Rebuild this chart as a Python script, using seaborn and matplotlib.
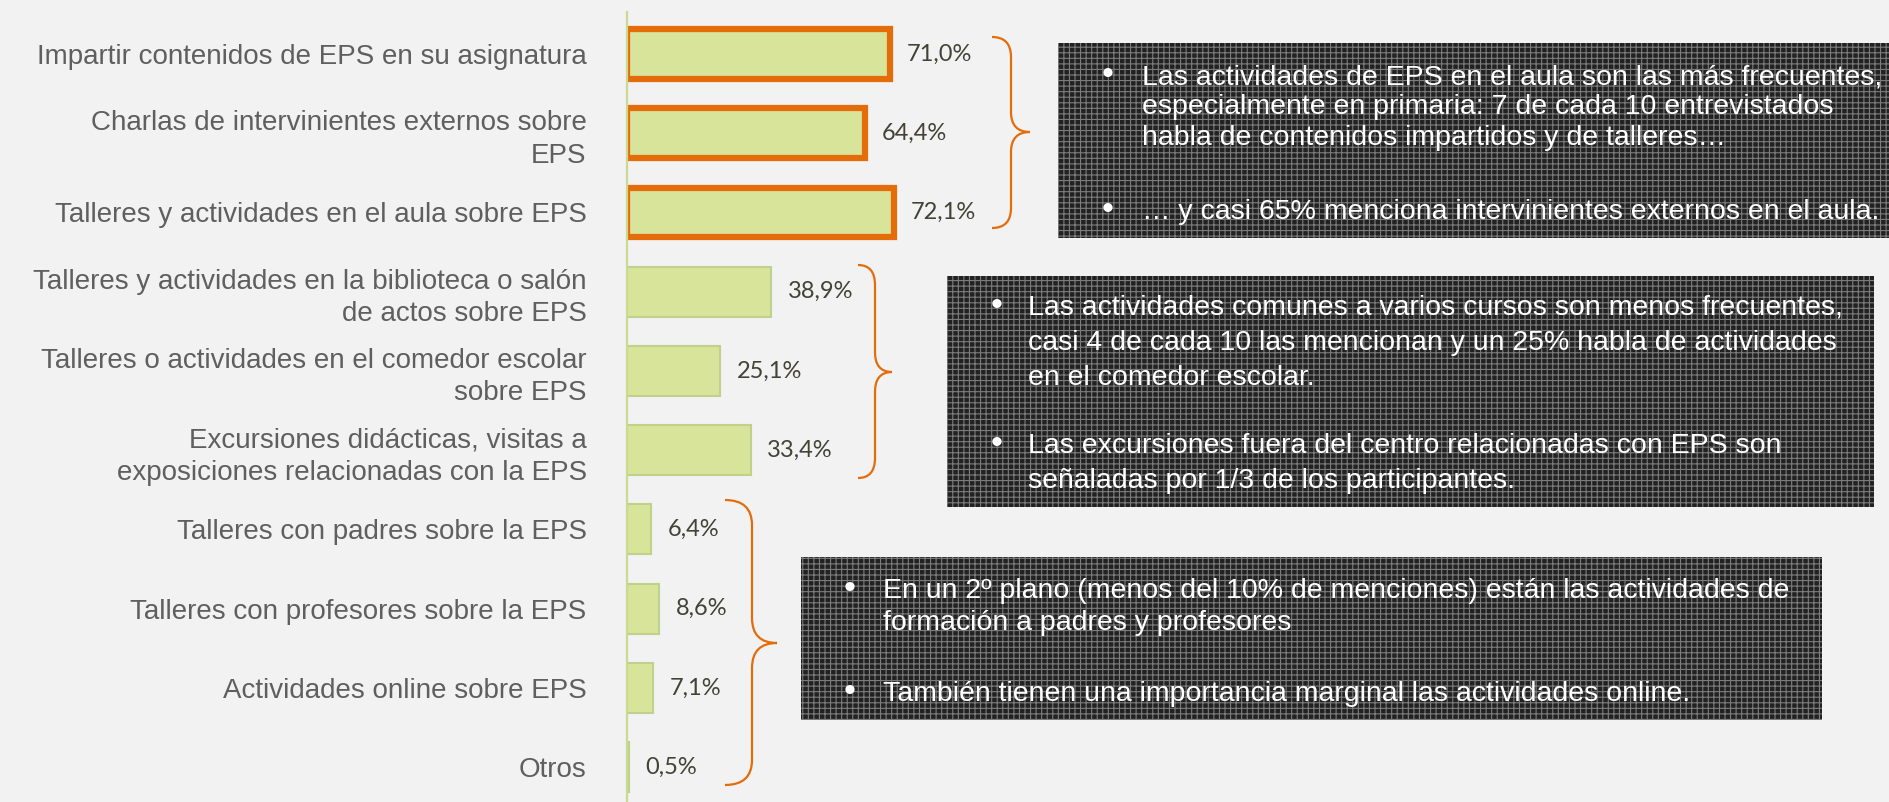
import matplotlib
matplotlib.use("Agg")
import matplotlib.pyplot as plt
import seaborn as sns
import pandas as pd
from matplotlib.patches import Rectangle, PathPatch
from matplotlib.path import Path

categories = [
    "Impartir contenidos de EPS en su asignatura",
    "Charlas de intervinientes externos sobre\nEPS",
    "Talleres y actividades en el aula sobre EPS",
    "Talleres y actividades en la biblioteca o salón\nde actos sobre EPS",
    "Talleres o actividades en el comedor escolar\nsobre EPS",
    "Excursiones didácticas, visitas a\nexposiciones relacionadas con la EPS",
    "Talleres con padres sobre la EPS",
    "Talleres con profesores sobre la EPS",
    "Actividades online sobre EPS",
    "Otros",
]
values = [71.0, 64.4, 72.1, 38.9, 25.1, 33.4, 6.4, 8.6, 7.1, 0.5]
highlighted = [0, 1, 2]

box1_lines = [
    "Las actividades de EPS en el aula son las más frecuentes,",
    "especialmente en primaria: 7 de cada 10 entrevistados",
    "habla de contenidos impartidos y de talleres…",
]
box1_extra = ["… y casi 65% menciona intervinientes externos en el aula."]
box2_lines = [
    "Las actividades comunes a varios cursos son menos frecuentes,",
    "casi 4 de cada 10 las mencionan y un 25% habla de actividades",
    "en el comedor escolar.",
]
box2_extra = [
    "Las excursiones fuera del centro relacionadas con EPS son",
    "señaladas por 1/3 de los participantes.",
]
box3_lines = [
    "En un 2º plano (menos del 10% de menciones) están las actividades de",
    "formación a padres y profesores",
]
box3_extra = ["También tienen una importancia marginal las actividades online."]

df = pd.DataFrame({"cat": categories, "val": values})
df["lab"] = [f"{v:.1f}%".replace(".", ",") for v in values]

BG = "#f2f2f2"
ORANGE = "#e46c0a"
W, H = 1890, 802

plt.rcParams["font.family"] = ["Liberation Sans", "DejaVu Sans"]
plt.rcParams["hatch.linewidth"] = 0.8

fig = plt.figure(figsize=(W / 100, H / 100), dpi=100, facecolor=BG)
ax = fig.add_axes([627 / W, 0, (W - 627) / W, (H - 12) / H])
ax.set_facecolor(BG)

sns.barplot(data=df, x="val", y="cat", ax=ax, color="#d9e49b", saturation=1,
            edgecolor="#c0d18b", linewidth=1.5, width=0.63)

for i in highlighted:
    ax.patches[i].set_edgecolor(ORANGE)
    ax.patches[i].set_linewidth(4.5)

ax.bar_label(ax.containers[0], labels=df["lab"], padding=12, fontsize=17,
             color="#424236", family=["Lato", "DejaVu Sans"])

ax.set_xlim(0, (W - 627) / 3.70)
ax.set_ylim(9.44, -0.53)
ax.set_xlabel("")
ax.set_ylabel("")
ax.set_xticks([])
for s in ["top", "right", "bottom"]:
    ax.spines[s].set_visible(False)
ax.spines["left"].set_color("#cbd994")
ax.spines["left"].set_linewidth(1.6)
ax.tick_params(axis="y", length=0, pad=29, labelsize=20, labelcolor="#5f5f5f")
for t in ax.get_yticklabels():
    t.set_linespacing(1.32)

# overlay in pixel coordinates for the comment boxes and braces
ov = fig.add_axes([0, 0, 1, 1], zorder=3)
ov.set_xlim(0, W)
ov.set_ylim(H, 0)
ov.axis("off")
ov.patch.set_alpha(0)


def brace(x_left, x_mid, x_tip, y_top, y_mid, y_bot, r):
    verts = [(x_left, y_top), (x_mid, y_top), (x_mid, y_top + r),
             (x_mid, y_mid - r), (x_mid, y_mid), (x_tip, y_mid),
             (x_mid, y_mid), (x_mid, y_mid + r),
             (x_mid, y_bot - r), (x_mid, y_bot), (x_left, y_bot)]
    codes = [Path.MOVETO, Path.CURVE3, Path.CURVE3, Path.LINETO,
             Path.CURVE3, Path.CURVE3, Path.CURVE3, Path.CURVE3,
             Path.LINETO, Path.CURVE3, Path.CURVE3]
    ov.add_patch(PathPatch(Path(verts, codes), facecolor="none",
                           edgecolor=ORANGE, linewidth=1.6))


brace(992, 1011, 1030, 37, 132, 228, 20)
brace(858, 875, 892, 265, 372, 478, 20)
brace(725, 752, 777, 500, 643, 785, 25)


def note(x0, y0, x1, y1, x_bullet, x_text, paras, spacing, fs=20.5):
    ov.add_patch(Rectangle((x0, y0), x1 - x0, y1 - y0, facecolor="#222222",
                           edgecolor="#7c7c7c", linewidth=0, hatch="+++"))
    for lines, y in paras:
        ov.text(x_bullet, y, "•", color="white", fontsize=fs + 4, ha="center",
                va="baseline")
        for k, line in enumerate(lines):
            ov.text(x_text, y + k * spacing, line, color="white",
                    fontsize=fs, ha="left", va="baseline")


note(1058, 43, 1890, 238, 1108, 1142,
     [(box1_lines, 84), (box1_extra, 219)], 30.5)
note(947, 276, 1874, 507, 997, 1028,
     [(box2_lines, 315), (box2_extra, 453)], 35)
note(801, 557, 1822, 720, 850, 883,
     [(box3_lines, 598), (box3_extra, 701)], 32)

fig.savefig("out.png", dpi=100, facecolor=BG)
